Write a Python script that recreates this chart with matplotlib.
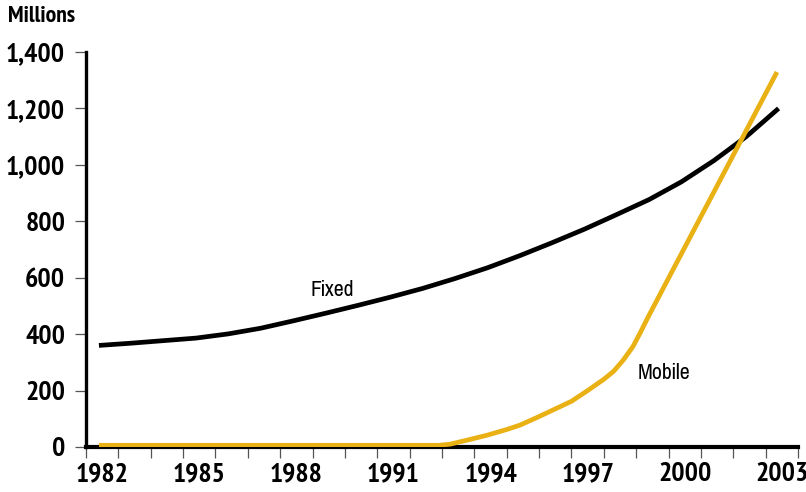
import numpy as np
import matplotlib
matplotlib.use("Agg")
import matplotlib.pyplot as plt
from matplotlib import font_manager

# --- 데이터 ---
fixed_x = np.arange(1982, 2004) + 0.4
fixed = [360, 368, 377, 386, 401, 421, 447, 474, 502, 531, 562,
         597, 635, 678, 724, 772, 824, 877, 940, 1015, 1100, 1200]
mobile_x = [1982.4, 1992.9, 1993.25, 1993.8, 1994.4, 1995.0, 1995.42, 1996.0,
            1996.5, 1997.0, 1997.5, 1998.0, 1998.3, 1998.6, 1998.9, 1999.13,
            1999.37, 2003.35]
mobile = [6, 6, 10, 25, 42, 62, 78, 108, 135, 162, 200, 240, 268, 308, 356,
          406, 461, 1329]
label_years = [1982, 1985, 1988, 1991, 1994, 1997, 2000, 2003]
y_ticks = [0, 200, 400, 600, 800, 1000, 1200, 1400]

GOLD = "#E9B114"

# 좁은 글꼴 찾기
def find_font(keys):
    for f in font_manager.fontManager.ttflist:
        fn = f.fname.replace("-", "").replace("_", "").lower()
        if all(k in fn for k in keys):
            return f.fname
    return None

bold_file = (find_font(["narrow", "bold"]) or find_font(["condensedbold"])
             or find_font(["condensed", "bold"]))
reg_file = (find_font(["narrowregular"]) or find_font(["sansnarrow.ttf"])
            or find_font(["condensed.ttf"]) or find_font(["condensedregular"]))

if bold_file:
    bold_fp = font_manager.FontProperties(fname=bold_file)
    bsize = 20
else:
    bold_fp = font_manager.FontProperties(family="Roboto", weight="bold")
    bsize = 15
if reg_file:
    reg_fp = font_manager.FontProperties(fname=reg_file)
    rsize = 17
else:
    reg_fp = font_manager.FontProperties(family="Roboto")
    rsize = 13

fig = plt.figure(figsize=(8.06, 4.92), dpi=100)
ax = fig.add_axes([86 / 806, 45 / 492, (798 - 86) / 806, (447 - 52) / 492])

ax.plot(fixed_x, fixed, color="black", lw=3.4, solid_capstyle="butt", zorder=3)
ax.plot(mobile_x, mobile, color=GOLD, lw=3.4, solid_capstyle="butt", zorder=4)

ax.set_xlim(1982, 2004)
ax.set_ylim(0, 1400)

# 축 스타일
for s in ["top", "right"]:
    ax.spines[s].set_visible(False)
ax.spines["left"].set_linewidth(2.4)
ax.spines["bottom"].set_linewidth(3)

ax.set_yticks(y_ticks)
ax.set_yticklabels([f"{v:,}" for v in y_ticks], fontproperties=bold_fp, fontsize=bsize)
ax.tick_params(axis="y", direction="out", length=8, width=0.9, color="#555555", pad=7)

ax.set_xticks(np.arange(1982, 2005))
ax.set_xticklabels([])
ax.set_xticks([y + 0.5 for y in label_years], minor=True)
ax.set_xticklabels([str(y) for y in label_years], minor=True,
                   fontproperties=bold_fp, fontsize=bsize)
ax.tick_params(axis="x", which="major", direction="out", length=8, width=0.9, color="#555555")
ax.tick_params(axis="x", which="minor", length=0, pad=11)

ax.text(1989.6, 557, "Fixed", fontproperties=reg_fp, fontsize=rsize, ha="center", va="center")
ax.text(1999.85, 262, "Mobile", fontproperties=reg_fp, fontsize=rsize, ha="center", va="center")

fig.text(8 / 806, 1 - 16 / 492, "Millions", fontproperties=bold_fp, fontsize=bsize - 3,
         va="center", ha="left")

fig.savefig("out.png", dpi=100)
